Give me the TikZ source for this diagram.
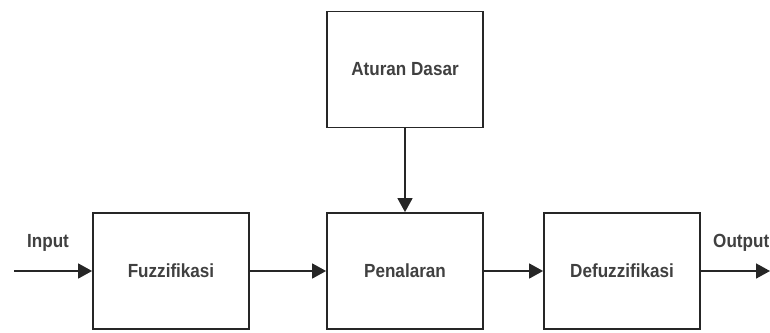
\documentclass[tikz,border=0pt]{standalone}
\usepackage{fontspec}
\setmainfont[FakeStretch=0.9]{Liberation Sans}
\usetikzlibrary{arrows.meta}
\begin{document}
\begin{tikzpicture}[x=1pt,y=-1pt,
  blok/.style={draw=black!85,line width=1.8pt,minimum width=156pt,minimum height=116pt,inner sep=0pt,font=\fontsize{19}{20}\selectfont\bfseries,text=black!75},
  panah/.style={draw=black!85,line width=1.6pt,-{Triangle[length=14pt,width=15pt]}},
  lbl/.style={font=\fontsize{19}{20}\selectfont\bfseries,text=black!75,inner sep=0pt}]
\useasboundingbox (0,0) rectangle (770,332);
\clip (0,0) rectangle (770,332);
\node[blok] (fz) at (171,271) {Fuzzifikasi};
\node[blok] (at) at (405,69.5) {Aturan Dasar};
\node[blok] (pn) at (405,271) {Penalaran};
\node[blok] (df) at (622,271) {Defuzzifikasi};
\coordinate (in) at (14,271);
\coordinate (out) at (770,271);
\draw[panah] (in) -- (fz.west);
\draw[panah] (fz.east) -- (pn.west);
\draw[panah] (pn.east) -- (df.west);
\draw[panah] (df.east) -- (out);
\draw[panah] (at.south) -- (pn.north);
\node[lbl] (li) at (48,243) {Input};
\node[lbl,anchor=west] (lo) at (713,243) {Output};
\end{tikzpicture}
\end{document}
